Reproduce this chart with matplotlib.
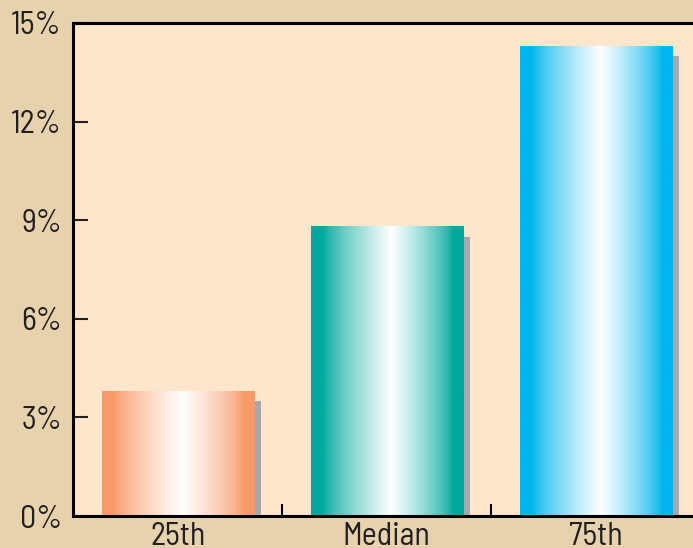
import numpy as np
import matplotlib.pyplot as plt
from matplotlib.colors import to_rgb
from matplotlib.ticker import FuncFormatter, FixedLocator

plt.rcParams['font.family'] = ['Barlow Semi Condensed', 'Archivo Narrow', 'DejaVu Sans']

categories = ["25th", "Median", "75th"]
values = [3.8, 8.8, 14.3]
colors = ["#f89a68", "#00a99d", "#00b6ee"]

outer_bg = "#e7d2ae"
plot_bg = "#fde6cc"
shadow_color = "#a7a8ab"

fig = plt.figure(figsize=(6.93, 5.48), dpi=100, facecolor=outer_bg)
ax = fig.add_axes([73 / 693, 32 / 548, 627.5 / 693, 493 / 548])
ax.set_facecolor(plot_bg)

x = np.arange(len(categories))
width = 0.727
shadow_dx = 0.036
shadow_dy = 0.3

# drop shadows behind the bars
ax.bar(x + shadow_dx, [v - shadow_dy for v in values], width=width,
       color=shadow_color, zorder=1)

# bars with a horizontal colour -> white -> colour gradient
bars = ax.bar(x, values, width=width, color="none", zorder=2)
u = np.linspace(0, 1, 400)
left = np.clip((u - 0.08) / (0.53 - 0.08), 0, 1)
right = np.clip((0.93 - u) / (0.93 - 0.53), 0, 1)
prof = np.where(u < 0.53, left, right) ** 0.75
for bar, c in zip(bars, colors):
    rgb = np.array(to_rgb(c))
    grad = rgb[None, :] * (1 - prof[:, None]) + prof[:, None]
    x0, y0 = bar.get_x(), bar.get_y()
    ax.imshow(grad[None, :, :], extent=[x0, x0 + bar.get_width(), y0, y0 + bar.get_height()],
              aspect="auto", zorder=2, interpolation="bicubic")

ax.set_xlim(-0.5, 2.5)
ax.set_ylim(0, 15)

ax.yaxis.set_major_locator(FixedLocator([0, 3, 6, 9, 12, 15]))
ax.yaxis.set_major_formatter(FuncFormatter(lambda v, p: f"{v:.0f}%"))
ax.tick_params(axis="y", direction="in", length=11, width=1.5, pad=8,
               labelsize=23, colors="#231f20")

ax.set_xticks(x)
ax.set_xticklabels(categories)
ax.set_xticks([0.5, 1.5], minor=True)
ax.tick_params(axis="x", which="major", length=0, pad=4, labelsize=23,
               colors="#231f20")
ax.tick_params(axis="x", which="minor", direction="in", length=8.5, width=1.5)

for side in ["left", "top", "bottom"]:
    ax.spines[side].set_linewidth(2.2)
    ax.spines[side].set_color("black")
ax.spines["right"].set_visible(False)

fig.savefig("out.png", dpi=100, facecolor=outer_bg)
